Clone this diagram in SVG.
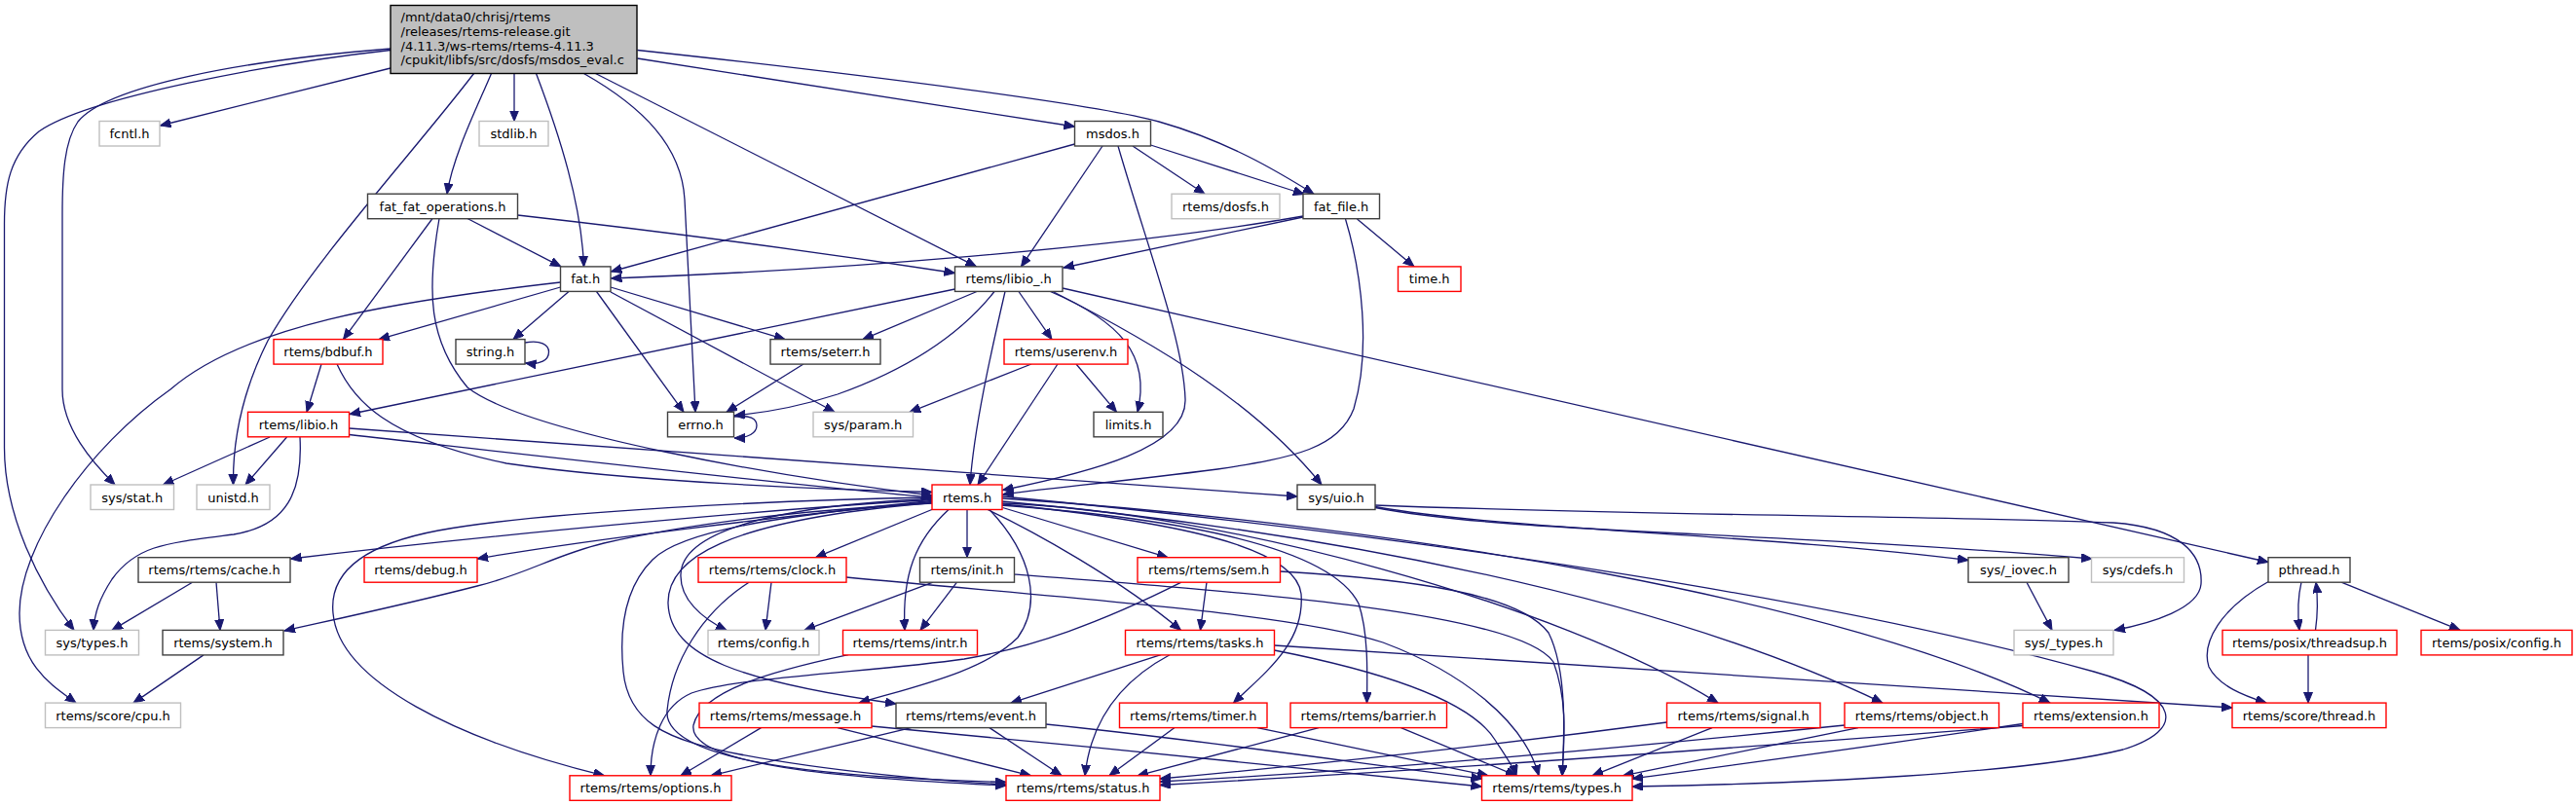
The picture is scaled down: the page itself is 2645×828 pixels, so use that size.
<svg xmlns="http://www.w3.org/2000/svg" width="2645" height="828" viewBox="0 0 2645 828">
<style>
.n rect{fill:#ffffff;stroke-width:1.4}
.k rect{stroke:#404040}
.r rect{stroke:#ff0000}
.g rect{stroke:#bfbfbf}
.m rect{fill:#bfbfbf;stroke:#000000}
text{font-family:"DejaVu Sans","Liberation Sans",sans-serif;font-size:13px;fill:#000000;text-anchor:middle}
.m text{text-anchor:start}
.e path{fill:none;stroke:#191970;stroke-width:1.3;marker-end:url(#a)}
</style>
<defs>
<marker id="a" markerUnits="userSpaceOnUse" markerWidth="12" markerHeight="10" refX="11" refY="4.5" orient="auto">
<path d="M0,0 L11,4.5 L0,9 z" fill="#191970" stroke="#191970" stroke-width="1"/>
</marker>
</defs>
<rect x="0" y="0" width="2645" height="828" fill="#ffffff"/>
<g id="edges" class="e">
<path d="M401,70 L164.5,129"/>
<path d="M528,75.5 L528,124.5"/>
<path d="M504.5,75.5 C490,110 465,160 459,199.2"/>
<path d="M550.5,75.5 C575,140 597,210 599.5,273.9"/>
<path d="M654.5,60 L1103.5,130"/>
<path d="M654.5,51.5 C900,78 1130,108 1190,125 C1260,145 1310,175 1349,199.2"/>
<path d="M611.5,75.5 L1002.5,273.9"/>
<path d="M599.5,75.5 C660,110 700,150 703,205 L714,423.3"/>
<path d="M486.5,75.5 C430,150 320,270 275,350 C245,410 239,460 239.5,498"/>
<path d="M401,50 C250,62 110,88 80,125 C66,145 64,180 64,220 L64,400 C64,440 95,475 118,498"/>
<path d="M401,51.5 C280,65 90,100 40,135 C10,160 4.5,190 4.5,230 L4.5,460 C4.5,530 40,600 76,647.4"/>
<path d="M1103.5,148 L627.5,279"/>
<path d="M1132,150 L1048.5,273.9"/>
<path d="M1163,150 L1237,199.2"/>
<path d="M1181.5,149 L1339,199.5"/>
<path d="M1148,150 C1180,260 1215,350 1217,410 C1219,460 1120,485 1029.5,503.5"/>
<path d="M1338,222 C1150,255 850,278 627.5,286"/>
<path d="M1338,223 L1092,275"/>
<path d="M1393.5,225 L1452,273.9"/>
<path d="M1381.5,225 C1398,280 1408,360 1390,420 C1375,460 1330,470 1250,482 C1150,495 1070,502 1029.5,508"/>
<path d="M480,224.5 L576,273.9"/>
<path d="M531.5,221 C700,240 860,262 980.5,280.5"/>
<path d="M444,224.5 L352.5,348.6"/>
<path d="M451,224.5 C438,300 440,350 480,398 C540,445 800,490 957,509"/>
<path d="M330,374 L315,423.3"/>
<path d="M346,374 C362,410 395,450 520,476 C650,495 850,503 957,505.5"/>
<path d="M575.5,290 C400,310 250,335 175,400 C90,460 20,560 20,630 C20,685 55,705 78,722.1"/>
<path d="M575.5,295 L389,348.6"/>
<path d="M584,299.5 L527,348.6"/>
<path d="M612.5,299.5 L702,423.3"/>
<path d="M627,295 L806,348.6"/>
<path d="M627,300 L857,423.3"/>
<path d="M980.5,297 L359,425.5"/>
<path d="M1003,299.5 L886,348.6"/>
<path d="M1021,299.5 C985,345 930,380 860,405 C820,418 785,424 754,427"/>
<path d="M1032,299.5 C1018,360 1000,440 996,498"/>
<path d="M1046,299.5 L1080,348.6"/>
<path d="M1078.5,299.5 C1150,330 1182,365 1168,423.3"/>
<path d="M1081,299.5 C1190,355 1290,415 1357,498"/>
<path d="M1091,296 L2329,577.5"/>
<path d="M1059,374 L934,423.3"/>
<path d="M1086,374 L1004,498"/>
<path d="M1105,374 L1146.5,423.3"/>
<path d="M825,374 L746,423.3"/>
<path d="M753.5,428 C770,426 777,430 777,437 C777,445 768,450 754,450"/>
<path d="M539,352 C555,349 563.5,354 563.5,361.5 C563.5,370 555,375 539.5,373"/>
<path d="M277,449 L167.5,498"/>
<path d="M294.5,449 L252,498"/>
<path d="M308,449 C311,505 295,540 240,549 C170,558 140,560 115,595 C102,615 97,630 96,647.4"/>
<path d="M358.5,446.5 C550,468 800,497 957,511"/>
<path d="M358.5,440 L1332,510"/>
<path d="M957,513.5 C800,522 500,550 298.5,574"/>
<path d="M957,515.5 C800,530 600,555 490,574"/>
<path d="M957,517 C800,525 700,540 620,558 C570,570 540,590 490,602 C420,620 350,635 292,648"/>
<path d="M957,511 C800,514 560,525 450,545 C370,560 338,590 342,630 C348,700 470,760 620.5,796.8"/>
<path d="M958,523 L837.5,572.7"/>
<path d="M993,523.5 L993,572.7"/>
<path d="M974,523.5 C940,555 926,590 929,647.4"/>
<path d="M1029.5,521.5 L1199,572.7"/>
<path d="M1014,523.5 C1060,545 1150,595 1212.5,647.4"/>
<path d="M1016,523.5 C1060,570 1070,620 1045,655 C1010,690 940,705 882,722.1"/>
<path d="M957,512.5 C780,520 700,550 699,590 C698,615 720,635 746,647.4"/>
<path d="M957,516.5 C740,535 685,575 686,620 C688,675 760,700 920,723"/>
<path d="M957,514.5 C800,530 700,545 670,575 C640,605 636,650 640,690 C645,740 680,760 760,775 C850,792 960,802 1033,806"/>
<path d="M1021,517 C1200,535 1330,560 1336,610 C1340,660 1300,690 1266.5,722.1"/>
<path d="M1021,518.5 C1250,535 1370,570 1395,620 C1405,650 1404,690 1403.5,722.1"/>
<path d="M1029,517 C1250,525 1600,620 1764,722.1"/>
<path d="M1029,515 C1350,545 1700,610 1933,722.1"/>
<path d="M1029,512 C1450,540 1900,620 2105,722.1"/>
<path d="M1029,510 C1500,555 1900,620 2150,690 C2240,715 2245,750 2180,770 C2080,795 1850,805 1676,808"/>
<path d="M792,598.2 L786,647.4"/>
<path d="M769,598.2 C720,630 690,680 685,730 C680,790 900,800 1033,803.5"/>
<path d="M869,593 C1100,615 1330,630 1420,660 C1500,690 1565,740 1580,796.8"/>
<path d="M958,598.2 L826,647.4"/>
<path d="M982.5,598.2 L945,647.4"/>
<path d="M1041.5,590 C1300,610 1560,630 1595,680 C1610,720 1606,760 1604,796.8"/>
<path d="M1239,598.2 L1232.5,647.4"/>
<path d="M1213,598.2 C1130,640 1060,665 990,677 C900,690 760,695 710,712 C680,725 668,760 668,796.8"/>
<path d="M1314.5,587 C1450,595 1560,610 1590,650 C1610,690 1606,760 1604,796.8"/>
<path d="M1192,672.7 L1038,722.1"/>
<path d="M1201,672.7 C1150,700 1120,740 1114,796.8"/>
<path d="M1308.5,668 C1420,690 1510,720 1535,760 C1548,780 1555,790 1557,796.8"/>
<path d="M1308.5,663 L2292,727"/>
<path d="M871,672.7 C790,690 720,710 712,745 C705,790 900,801 1033,807"/>
<path d="M781.5,747.6 L699,796.8"/>
<path d="M860,747.6 L1058.5,796.8"/>
<path d="M895,746 C1100,765 1350,790 1521.5,808"/>
<path d="M935.5,747.6 L730,796.8"/>
<path d="M1016,747.6 L1090,796.8"/>
<path d="M1074,744 C1250,762 1400,785 1521.5,800"/>
<path d="M1206,747.6 L1139,796.8"/>
<path d="M1291,747.6 L1528,796.8"/>
<path d="M1354,747.6 L1168,796.8"/>
<path d="M1438.5,747.6 L1557,796.8"/>
<path d="M1711.5,742 C1500,770 1300,790 1191,800"/>
<path d="M1758,747.6 L1635,796.8"/>
<path d="M1894,745 C1600,775 1350,795 1191,803"/>
<path d="M1908,747.6 L1666.5,796.8"/>
<path d="M2077,745.5 C1700,775 1400,795 1191,806.5"/>
<path d="M2077,743.5 C1900,770 1750,790 1676,800"/>
<path d="M197.5,598.2 L115,647.4"/>
<path d="M222,598.2 L226,647.4"/>
<path d="M209,672.9 L137,722.1"/>
<path d="M1412,520.5 C1550,545 1800,548 2021,575.5"/>
<path d="M1412,521.5 C1550,548 1800,545 2148,574"/>
<path d="M1412,519 C1700,530 2000,530 2170,537 C2240,542 2262,570 2260,600 C2258,625 2210,640 2171,647.4"/>
<path d="M2081,598.2 L2107,647.4"/>
<path d="M2363,598.2 C2359,615 2359,630 2361,647.4"/>
<path d="M2377.5,647.4 C2380,630 2380,615 2378,598.2"/>
<path d="M2404,598.2 L2526,647.4"/>
<path d="M2330,597 C2280,625 2260,660 2268,685 C2278,705 2305,715 2327,722.1"/>
<path d="M2370,672.9 L2370,722.1"/>
</g>
<g id="n_main" class="n m"><rect x="401" y="5.5" width="253" height="70"/>
<text x="411.5" y="22">/mnt/data0/chrisj/rtems</text>
<text x="411.5" y="36.8">/releases/rtems-release.git</text>
<text x="411.5" y="51.6">/4.11.3/ws-rtems/rtems-4.11.3</text>
<text x="411.5" y="66.4">/cpukit/libfs/src/dosfs/msdos_eval.c</text></g>
<g id="n_fcntl" class="n g"><rect x="102" y="124.5" width="62" height="25.5"/><text x="133" y="142">fcntl.h</text></g>
<g id="n_stdlib" class="n g"><rect x="492" y="124.5" width="71" height="25.5"/><text x="527.5" y="142">stdlib.h</text></g>
<g id="n_msdos" class="n k"><rect x="1103.5" y="124.5" width="78" height="25.5"/><text x="1142.5" y="142">msdos.h</text></g>
<g id="n_ffo" class="n k"><rect x="377.5" y="199.2" width="154" height="25.5"/><text x="454.5" y="216.7">fat_fat_operations.h</text></g>
<g id="n_dosfs" class="n g"><rect x="1203" y="199.2" width="111" height="25.5"/><text x="1258.5" y="216.7">rtems/dosfs.h</text></g>
<g id="n_fatfile" class="n k"><rect x="1338" y="199.2" width="78.5" height="25.5"/><text x="1377.2" y="216.7">fat_file.h</text></g>
<g id="n_fat" class="n k"><rect x="575.5" y="273.9" width="51.5" height="25.5"/><text x="601.2" y="291.4">fat.h</text></g>
<g id="n_libio_" class="n k"><rect x="980.5" y="273.9" width="110.5" height="25.5"/><text x="1035.7" y="291.4">rtems/libio_.h</text></g>
<g id="n_time" class="n r"><rect x="1435.5" y="273.9" width="64.5" height="25.5"/><text x="1467.7" y="291.4">time.h</text></g>
<g id="n_bdbuf" class="n r"><rect x="281" y="348.6" width="112" height="25.5"/><text x="337" y="366.1">rtems/bdbuf.h</text></g>
<g id="n_string" class="n k"><rect x="468" y="348.6" width="71" height="25.5"/><text x="503.5" y="366.1">string.h</text></g>
<g id="n_seterr" class="n k"><rect x="791" y="348.6" width="113" height="25.5"/><text x="847.5" y="366.1">rtems/seterr.h</text></g>
<g id="n_userenv" class="n r"><rect x="1031" y="348.6" width="127" height="25.5"/><text x="1094.5" y="366.1">rtems/userenv.h</text></g>
<g id="n_libio" class="n r"><rect x="254.5" y="423.3" width="104" height="25.5"/><text x="306.5" y="440.8">rtems/libio.h</text></g>
<g id="n_errno" class="n k"><rect x="685.5" y="423.3" width="68" height="25.5"/><text x="719.5" y="440.8">errno.h</text></g>
<g id="n_param" class="n g"><rect x="835" y="423.3" width="102.5" height="25.5"/><text x="886.2" y="440.8">sys/param.h</text></g>
<g id="n_limits" class="n k"><rect x="1123" y="423.3" width="71" height="25.5"/><text x="1158.5" y="440.8">limits.h</text></g>
<g id="n_stat" class="n g"><rect x="93" y="498" width="85.5" height="25.5"/><text x="135.7" y="515.5">sys/stat.h</text></g>
<g id="n_unistd" class="n g"><rect x="202" y="498" width="75" height="25.5"/><text x="239.5" y="515.5">unistd.h</text></g>
<g id="n_rtems" class="n r"><rect x="957" y="498" width="72" height="25.5"/><text x="993" y="515.5">rtems.h</text></g>
<g id="n_uio" class="n k"><rect x="1332" y="498" width="80" height="25.5"/><text x="1372" y="515.5">sys/uio.h</text></g>
<g id="n_cache" class="n k"><rect x="142" y="572.7" width="156" height="25.5"/><text x="220" y="590.2">rtems/rtems/cache.h</text></g>
<g id="n_debug" class="n r"><rect x="374" y="572.7" width="116" height="25.5"/><text x="432" y="590.2">rtems/debug.h</text></g>
<g id="n_clock" class="n r"><rect x="717" y="572.7" width="152" height="25.5"/><text x="793" y="590.2">rtems/rtems/clock.h</text></g>
<g id="n_init" class="n k"><rect x="944.5" y="572.7" width="97" height="25.5"/><text x="993" y="590.2">rtems/init.h</text></g>
<g id="n_sem" class="n r"><rect x="1168" y="572.7" width="146.5" height="25.5"/><text x="1241.2" y="590.2">rtems/rtems/sem.h</text></g>
<g id="n_iovec" class="n k"><rect x="2021" y="572.7" width="103" height="25.5"/><text x="2072.5" y="590.2">sys/_iovec.h</text></g>
<g id="n_cdefs" class="n g"><rect x="2147.5" y="572.7" width="95" height="25.5"/><text x="2195" y="590.2">sys/cdefs.h</text></g>
<g id="n_pthread" class="n k"><rect x="2329" y="572.7" width="84" height="25.5"/><text x="2371" y="590.2">pthread.h</text></g>
<g id="n_systypes" class="n g"><rect x="46.5" y="647.4" width="96" height="25.5"/><text x="94.5" y="664.9">sys/types.h</text></g>
<g id="n_system" class="n k"><rect x="167" y="647.4" width="124" height="25.5"/><text x="229" y="664.9">rtems/system.h</text></g>
<g id="n_config" class="n g"><rect x="727" y="647.4" width="114" height="25.5"/><text x="784" y="664.9">rtems/config.h</text></g>
<g id="n_intr" class="n r"><rect x="865.5" y="647.4" width="138" height="25.5"/><text x="934.5" y="664.9">rtems/rtems/intr.h</text></g>
<g id="n_tasks" class="n r"><rect x="1155.5" y="647.4" width="153" height="25.5"/><text x="1232" y="664.9">rtems/rtems/tasks.h</text></g>
<g id="n__types" class="n g"><rect x="2068" y="647.4" width="102" height="25.5"/><text x="2119" y="664.9">sys/_types.h</text></g>
<g id="n_threadsup" class="n r"><rect x="2282" y="647.4" width="179" height="25.5"/><text x="2371.5" y="664.9">rtems/posix/threadsup.h</text></g>
<g id="n_pconfig" class="n r"><rect x="2486" y="647.4" width="155" height="25.5"/><text x="2563.5" y="664.9">rtems/posix/config.h</text></g>
<g id="n_cpu" class="n g"><rect x="46.5" y="722.1" width="139" height="25.5"/><text x="116" y="739.6">rtems/score/cpu.h</text></g>
<g id="n_message" class="n r"><rect x="718" y="722.1" width="177" height="25.5"/><text x="806.5" y="739.6">rtems/rtems/message.h</text></g>
<g id="n_event" class="n k"><rect x="920" y="722.1" width="154" height="25.5"/><text x="997" y="739.6">rtems/rtems/event.h</text></g>
<g id="n_timer" class="n r"><rect x="1149.5" y="722.1" width="151.5" height="25.5"/><text x="1225.2" y="739.6">rtems/rtems/timer.h</text></g>
<g id="n_barrier" class="n r"><rect x="1325" y="722.1" width="160.5" height="25.5"/><text x="1405.2" y="739.6">rtems/rtems/barrier.h</text></g>
<g id="n_signal" class="n r"><rect x="1711.5" y="722.1" width="157.5" height="25.5"/><text x="1790.2" y="739.6">rtems/rtems/signal.h</text></g>
<g id="n_object" class="n r"><rect x="1894" y="722.1" width="158.5" height="25.5"/><text x="1973.2" y="739.6">rtems/rtems/object.h</text></g>
<g id="n_extension" class="n r"><rect x="2077" y="722.1" width="140" height="25.5"/><text x="2147" y="739.6">rtems/extension.h</text></g>
<g id="n_thread" class="n r"><rect x="2292" y="722.1" width="158" height="25.5"/><text x="2371" y="739.6">rtems/score/thread.h</text></g>
<g id="n_options" class="n r"><rect x="585" y="796.8" width="166" height="25.5"/><text x="668" y="814.3">rtems/rtems/options.h</text></g>
<g id="n_status" class="n r"><rect x="1033" y="796.8" width="158" height="25.5"/><text x="1112" y="814.3">rtems/rtems/status.h</text></g>
<g id="n_types" class="n r"><rect x="1521.5" y="796.8" width="154.5" height="25.5"/><text x="1598.7" y="814.3">rtems/rtems/types.h</text></g>
</svg>
